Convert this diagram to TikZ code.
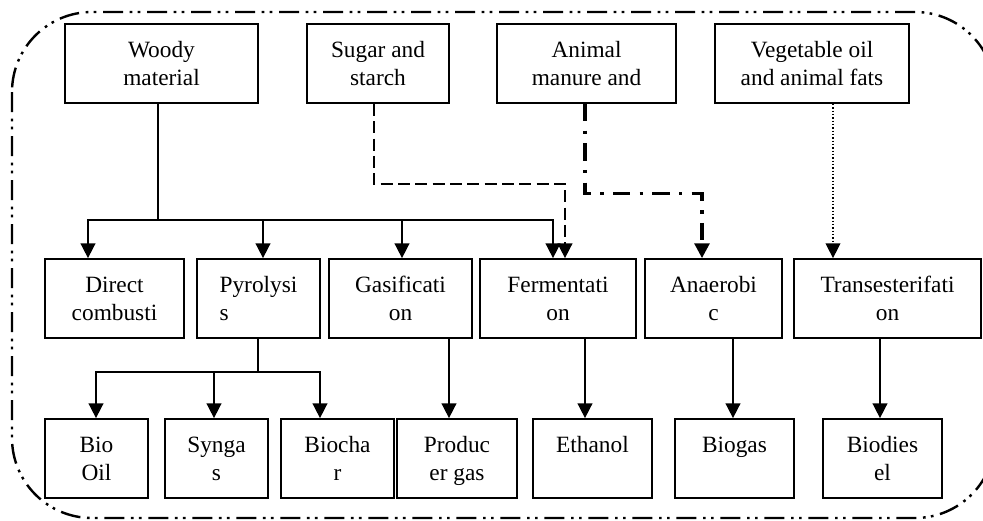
\documentclass[tikz,border=0pt]{standalone}
\usepackage{fontspec}
\setmainfont{Liberation Serif}
\usetikzlibrary{arrows.meta, calc}

\begin{document}
\begin{tikzpicture}[
    x=0.75pt, y=-0.75pt,
    box/.style={rectangle, draw, line width=1.3pt, minimum height=59.25pt, inner sep=0pt, align=center, text depth=0pt, font=\fontsize{17.5}{21}\selectfont},
    boxw/.style={minimum width=#1*0.75pt},
    link/.style={line width=1.2pt},
    arrow/.style={-{Triangle[length=11pt, width=11pt]}, line width=1.2pt},
    sugarline/.style={dash pattern=on 9pt off 4pt},
    manureline/.style={line width=2.4pt, dash pattern=on 13pt off 7pt on 2.5pt off 7pt},
    oilline/.style={line width=1pt, dash pattern=on 1pt off 1.5pt},
    border/.style={line width=1.8pt, rounded corners=60pt, dash pattern=on 15pt off 5pt on 2pt off 4pt on 2pt off 5pt}
]
\useasboundingbox (0,0) rectangle (983,521);

% outer frame
\draw[border] (12,12) rectangle (995,518);

% feedstock nodes
\node[box, boxw=193] (woody) at (161.5,63.5) {Woody\\material};
\node[box, boxw=142] (sugar) at (378,63.5) {Sugar and\\starch};
\node[box, boxw=179] (animal) at (586.5,63.5) {Animal\\manure and};
\node[box, boxw=194] (veg) at (812,63.5) {Vegetable oil\\and animal fats};

% process nodes
\node[box, boxw=139] (direct) at (114.5,298.5) {Direct\\combusti};
\node[box, boxw=123, align=left] (pyro) at (258.5,298.5) {Pyrolysi\\s};
\node[box, boxw=143] (gasif) at (400.5,298.5) {Gasificati\\on};
\node[box, boxw=156] (ferm) at (558,298.5) {Fermentati\\on};
\node[box, boxw=137] (anaer) at (713.5,298.5) {Anaerobi\\c};
\node[box, boxw=187] (trans) at (887.5,298.5) {Transesterifati\\on};

% product nodes
\node[box, boxw=103] (biooil) at (96.5,458.5) {Bio\\Oil};
\node[box, boxw=103] (syngas) at (216.5,458.5) {Synga\\s};
\node[box, boxw=113] (biochar) at (337.5,458.5) {Biocha\\r};
\node[box, boxw=120] (producer) at (457,458.5) {Produc\\er gas};
\node[box, boxw=119] (ethanol) at (592.5,458.5) {Ethanol\\~};
\node[box, boxw=119] (biogas) at (734.5,458.5) {Biogas\\~};
\node[box, boxw=119] (biodiesel) at (882.5,458.5) {Biodies\\el};

% woody material branch
\coordinate (wsplit) at (158,220);
\draw[link] (woody.south -| wsplit) -- (wsplit);
\foreach \n/\dx in {direct/-26.5, pyro/4.5, gasif/1.5, ferm/-5} {
    \draw[arrow] (wsplit) -| ($(\n.north)+(\dx,0)$);
}

% other feedstocks
\draw[arrow, sugarline] ($(sugar.south)+(-4,0)$) -- ++(0,80) -| ($(ferm.north)+(7,0)$);
\draw[arrow, manureline] ($(animal.south)+(-1.5,0)$) -- ++(0,90) -| ($(anaer.north)+(-11.5,0)$);
\draw[arrow, oilline] ($(veg.south)+(21,0)$) -- ($(trans.north)+(-54.5,0)$);

% pyrolysis branch
\coordinate (psplit) at (258,372);
\draw[link] (pyro.south -| psplit) -- (psplit);
\foreach \n/\dx in {biooil/-0.5, syngas/-2.5, biochar/-17.5} {
    \draw[arrow] (psplit) -| ($(\n.north)+(\dx,0)$);
}

% process to product
\draw[arrow] ($(gasif.south)+(48.5,0)$) -- ($(producer.north)+(-8,0)$);
\draw[arrow] ($(ferm.south)+(27,0)$) -- ($(ethanol.north)+(-7.5,0)$);
\draw[arrow] ($(anaer.south)+(19.5,0)$) -- ($(biogas.north)+(-1.5,0)$);
\draw[arrow] ($(trans.south)+(-7.5,0)$) -- ($(biodiesel.north)+(-2.5,0)$);

\end{tikzpicture}
\end{document}
